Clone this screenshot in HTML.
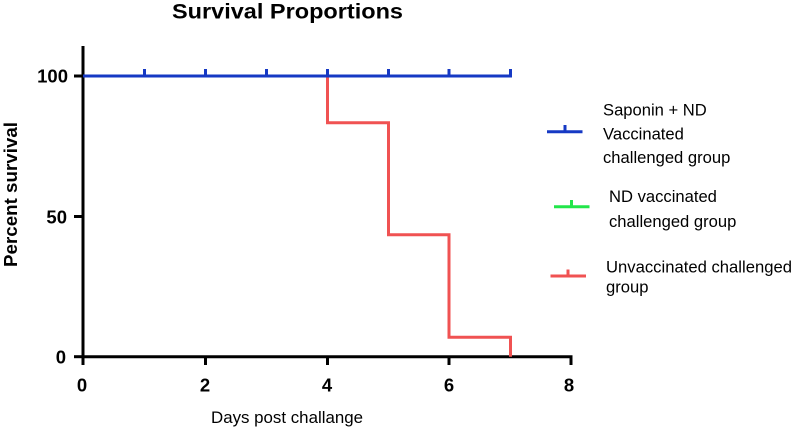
<!DOCTYPE html>
<html>
<head>
<meta charset="utf-8">
<style>
  html, body { margin: 0; padding: 0; background: #ffffff; }
  svg { display: block; }
  text { font-family: "Liberation Sans", Arial, sans-serif; fill: #000; }
</style>
</head>
<body>
<svg width="793" height="431" viewBox="0 0 793 431" xmlns="http://www.w3.org/2000/svg">
  <rect width="793" height="431" fill="#ffffff"/>

  <!-- Title -->
  <text x="172" y="18.5" font-size="21" font-weight="bold" textLength="231" lengthAdjust="spacingAndGlyphs">Survival Proportions</text>

  <!-- Y axis label -->
  <text transform="translate(17,194.5) rotate(-90)" text-anchor="middle" font-size="18.5" font-weight="bold" textLength="145" lengthAdjust="spacingAndGlyphs">Percent survival</text>

  <!-- X axis label -->
  <text x="211" y="423" font-size="17" textLength="152" lengthAdjust="spacingAndGlyphs">Days post challange</text>

  <!-- Axes -->
  <g stroke="#000" stroke-width="3" fill="none" stroke-linecap="butt">
    <line x1="83" y1="46" x2="83" y2="358"/>
    <line x1="81.5" y1="356.7" x2="572.5" y2="356.7"/>
    <!-- y ticks -->
    <line x1="74" y1="76" x2="83" y2="76"/>
    <line x1="74" y1="216.5" x2="83" y2="216.5"/>
    <line x1="74" y1="356.7" x2="83" y2="356.7"/>
    <!-- x ticks -->
    <line x1="83" y1="356" x2="83" y2="365"/>
    <line x1="205.5" y1="356" x2="205.5" y2="365"/>
    <line x1="327.5" y1="356" x2="327.5" y2="365"/>
    <line x1="449" y1="356" x2="449" y2="365"/>
    <line x1="571" y1="356" x2="571" y2="365"/>
  </g>

  <!-- Y tick labels -->
  <g font-size="18.5" font-weight="bold" text-anchor="end">
    <text x="68" y="82.5">100</text>
    <text x="67" y="223.5">50</text>
    <text x="66" y="363.5">0</text>
  </g>

  <!-- X tick labels -->
  <g font-size="18.5" font-weight="bold" text-anchor="middle">
    <text x="82" y="391.5">0</text>
    <text x="205" y="391.5">2</text>
    <text x="327" y="391.5">4</text>
    <text x="449" y="391.5">6</text>
    <text x="569" y="391.5">8</text>
  </g>

  <!-- Red series (unvaccinated) -->
  <path d="M327.5 76 V122.7 H388.5 V234.7 H449 V337.3 H510.5 V356.7" stroke="#f05252" stroke-width="3" fill="none"/>

  <!-- Blue series -->
  <g stroke="#1639c4" stroke-width="3" fill="none">
    <line x1="83" y1="76" x2="512" y2="76"/>
    <line x1="144.5" y1="69" x2="144.5" y2="76"/>
    <line x1="205.5" y1="69" x2="205.5" y2="76"/>
    <line x1="266.5" y1="69" x2="266.5" y2="76"/>
    <line x1="327.5" y1="69" x2="327.5" y2="76"/>
    <line x1="388.5" y1="69" x2="388.5" y2="76"/>
    <line x1="449" y1="69" x2="449" y2="76"/>
    <line x1="510.5" y1="69" x2="510.5" y2="77"/>
  </g>

  <!-- Legend -->
  <g stroke-width="3" fill="none">
    <line x1="547" y1="131.7" x2="582.5" y2="131.7" stroke="#1639c4"/>
    <line x1="565" y1="125" x2="565" y2="131.7" stroke="#1639c4"/>
    <line x1="554" y1="206.7" x2="589.5" y2="206.7" stroke="#22e64a"/>
    <line x1="571.5" y1="200" x2="571.5" y2="206.7" stroke="#22e64a"/>
    <line x1="550.5" y1="276" x2="586" y2="276" stroke="#f05252"/>
    <line x1="568" y1="269.5" x2="568" y2="276" stroke="#f05252"/>
  </g>
  <g font-size="16.6">
    <text x="603" y="115.7">Saponin + ND</text>
    <text x="603" y="139.5">Vaccinated</text>
    <text x="603" y="163">challenged group</text>
    <text x="609" y="202">ND vaccinated</text>
    <text x="609" y="227">challenged group</text>
    <text x="606" y="272.7" textLength="186" lengthAdjust="spacingAndGlyphs">Unvaccinated challenged</text>
    <text x="606" y="292.5">group</text>
  </g>
</svg>
</body>
</html>
